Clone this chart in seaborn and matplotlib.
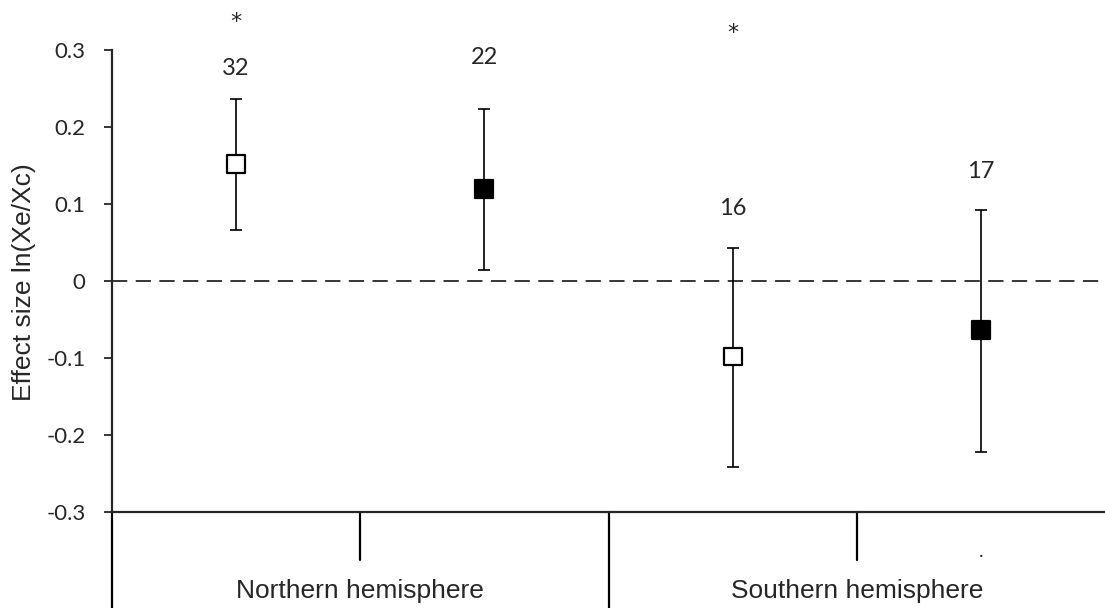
import matplotlib
matplotlib.use("Agg")
import matplotlib.pyplot as plt
import matplotlib.transforms as mtransforms
import seaborn as sns
import pandas as pd

# ---- data ----
hemisphere = ["Northern hemisphere", "Northern hemisphere", "Southern hemisphere", "Southern hemisphere"]
group = ["open", "filled", "open", "filled"]
effect = [0.152, 0.120, -0.098, -0.064]
ci_upper = [0.237, 0.224, 0.043, 0.092]
ci_lower = [0.066, 0.014, -0.242, -0.222]
n_labels = ["32", "22", "16", "17"]
n_label_y = [0.276, 0.290, 0.094, 0.142]
sig_labels = ["*", "", "*", ""]
sig_y = [0.336, None, 0.322, None]
yticks = [-0.3, -0.2, -0.1, 0, 0.1, 0.2, 0.3]
ytick_labels = ["-0.3", "-0.2", "-0.1", "0", "0.1", "0.2", "0.3"]
cat_labels = ["Northern hemisphere", "Southern hemisphere"]

pos = list(range(len(effect)))
df = pd.DataFrame({"pos": pos, "effect": effect, "group": group, "hemisphere": hemisphere})

sns.set_theme(style="white")
plt.rcParams["font.family"] = ["Lato", "DejaVu Sans"]

fig = plt.figure(figsize=(11.05, 6.08), dpi=100)
ax = fig.add_axes([112 / 1105, 1 - 512 / 608, 1 - 112 / 1105, 462 / 608])

# zero line
ax.axhline(0, color="black", lw=1.1, dashes=(10, 5.5), zorder=1)

# error bars
yerr = [[e - l for e, l in zip(effect, ci_lower)], [u - e for e, u in zip(effect, ci_upper)]]
ax.errorbar(pos, effect, yerr=yerr, fmt="none", ecolor="black", elinewidth=1.2,
            capsize=4.5, capthick=1.2, zorder=2)

# markers
sns.scatterplot(data=df, x="pos", y="effect", hue="group", palette={"open": "white", "filled": "black"},
                marker="s", s=165, edgecolor="black", linewidth=1.6, legend=False, ax=ax, zorder=3)

ax.set_xlim(-0.5, 3.5)
ax.set_ylim(-0.3, 0.3)
ax.set_yticks(yticks)
ax.set_yticklabels(ytick_labels, fontsize=16)
ax.set_xticks([])
ax.set_xlabel("")
ax.set_ylabel("")
ax.tick_params(axis="y", direction="out", length=6, width=1.3, pad=13, left=True)

fig.text(24 / 1105, 1 - 282 / 608, "Effect size ln(Xe/Xc)", rotation=90, ha="center", va="center",
         fontsize=19, family=["Liberation Sans"])

for s in ["top", "right"]:
    ax.spines[s].set_visible(False)
ax.spines["left"].set_linewidth(1.6)
ax.spines["bottom"].set_linewidth(1.6)

# text labels
for x, t, y in zip(pos, n_labels, n_label_y):
    ax.text(x, y, t, ha="center", va="center", fontsize=17, clip_on=False)
for x, t, y in zip(pos, sig_labels, sig_y):
    if t:
        ax.text(x, y, t, ha="center", va="center", fontsize=16, family=["DejaVu Sans"], clip_on=False)

# category axis below
trans = mtransforms.blended_transform_factory(ax.transData, ax.transAxes)
for xb in [-0.5, 1.5]:
    ax.plot([xb, xb], [0, -0.21], transform=trans, color="black", lw=1.6, clip_on=False)
for xm, lab in zip([0.5, 2.5], cat_labels):
    ax.plot([xm, xm], [0, -0.104], transform=trans, color="black", lw=1.6, clip_on=False)
    ax.text(xm, -0.172, lab, transform=trans, ha="center", va="center", fontsize=19,
            family=["Liberation Sans"], clip_on=False)
ax.text(3, -0.085, ".", transform=trans, ha="center", va="center", fontsize=14, clip_on=False)

fig.savefig("out.png", dpi=100)
